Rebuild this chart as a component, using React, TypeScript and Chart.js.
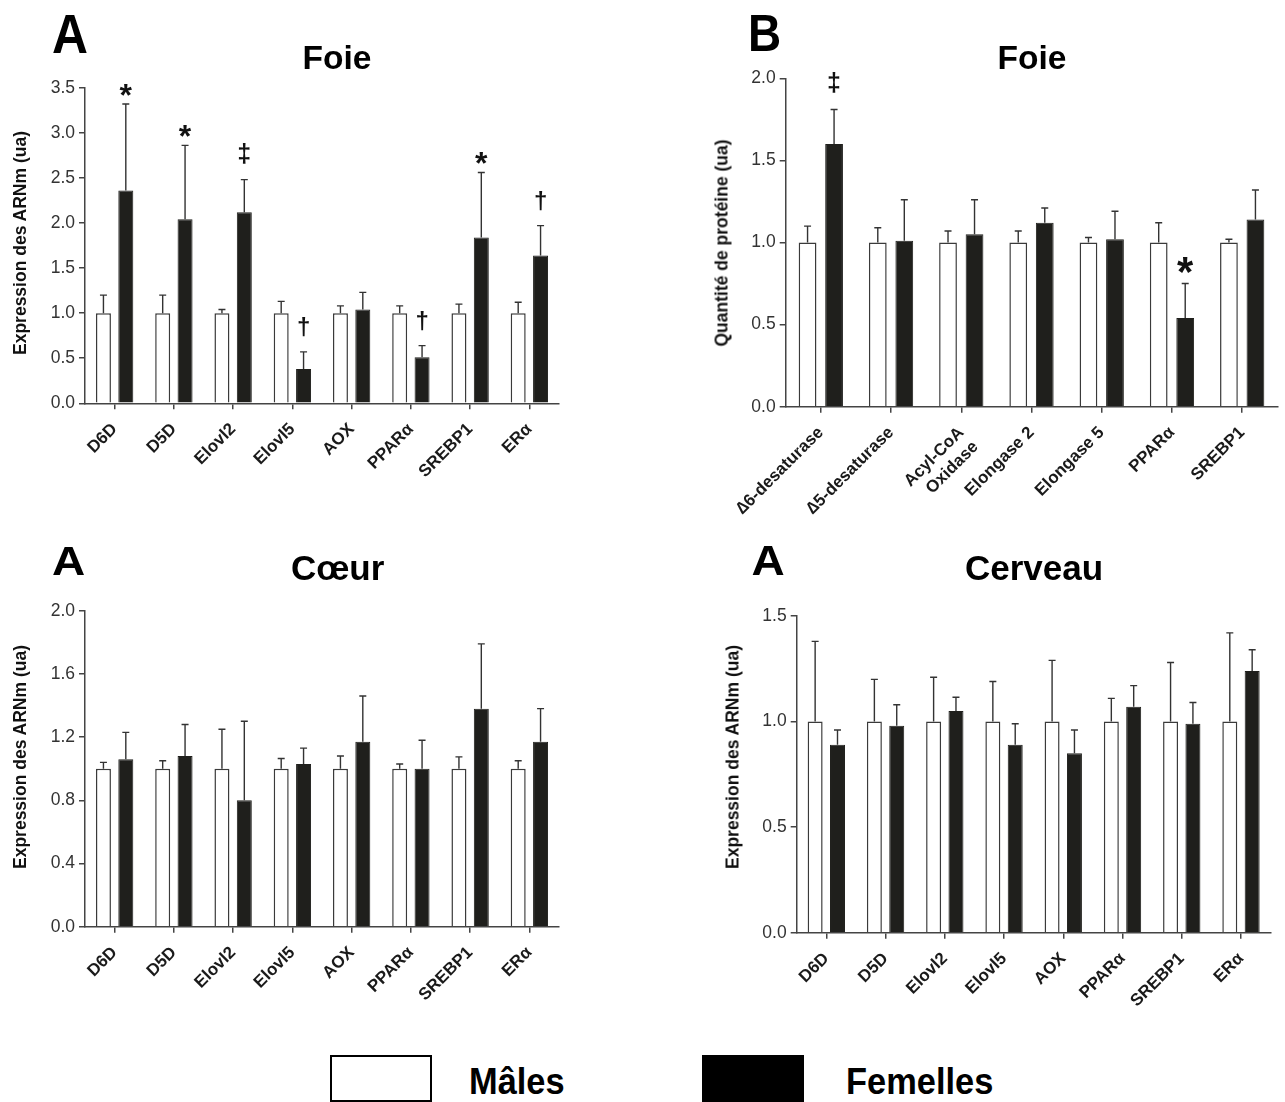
import React, { useEffect, useRef } from "react";
import { Chart, registerables } from "chart.js";

Chart.register(...registerables);

const FONT = "'Liberation Sans', Arial, Helvetica, sans-serif";

// ---- Categories ----
const genesArn = ["D6D", "D5D", "Elovl2", "Elovl5", "AOX", "PPARα", "SREBP1", "ERα"];
const proteinesFoie = ["∆6-desaturase", "∆5-desaturase", ["Acyl-CoA", "Oxidase"], "Elongase 2", "Elongase 5", "PPARα", "SREBP1"];

// ---- A: Foie (ARNm) ----
const foieArnMales = [1, 1, 1, 1, 1, 1, 1, 1];
const foieArnMalesSem = [0.2, 0.2, 0.04, 0.13, 0.08, 0.08, 0.1, 0.12];
const foieArnFemelles = [2.36, 2.04, 2.12, 0.38, 1.04, 0.51, 1.84, 1.64];
const foieArnFemellesSem = [0.96, 0.82, 0.36, 0.19, 0.19, 0.13, 0.72, 0.33];
const foieArnSignif = ["*", "*", "‡", "†", "", "†", "*", "†"];
const foieArnTicks = { max: 3.5, step: 0.5 };

// ---- B: Foie (protéine) ----
const foieProtMales = [1, 1, 1, 1, 1, 1, 1];
const foieProtMalesSem = [0.1, 0.09, 0.07, 0.07, 0.03, 0.12, 0.02];
const foieProtFemelles = [1.6, 1.01, 1.05, 1.12, 1.02, 0.54, 1.14];
const foieProtFemellesSem = [0.21, 0.25, 0.21, 0.09, 0.17, 0.21, 0.18];
const foieProtSignif = ["‡", "", "", "", "", "*", ""];
const foieProtTicks = { max: 2.0, step: 0.5 };

// ---- A: Cœur ----
const coeurMales = [1, 1, 1, 1, 1, 1, 1, 1];
const coeurMalesSem = [0.04, 0.05, 0.25, 0.065, 0.08, 0.03, 0.075, 0.05];
const coeurFemelles = [1.06, 1.08, 0.8, 1.03, 1.17, 1.0, 1.38, 1.17];
const coeurFemellesSem = [0.17, 0.2, 0.5, 0.1, 0.29, 0.18, 0.41, 0.21];
const coeurTicks = { max: 2.0, step: 0.4 };

// ---- A: Cerveau ----
const cerveauMales = [1, 1, 1, 1, 1, 1, 1, 1];
const cerveauMalesSem = [0.38, 0.2, 0.21, 0.19, 0.29, 0.11, 0.28, 0.42];
const cerveauFemelles = [0.89, 0.98, 1.05, 0.89, 0.85, 1.07, 0.99, 1.24];
const cerveauFemellesSem = [0.07, 0.1, 0.065, 0.1, 0.11, 0.1, 0.1, 0.1];
const cerveauTicks = { max: 1.5, step: 0.5 };

const SYMBOL_STYLE: Record<string, { size: number; lift: number }> = {
  "*": { size: 32, lift: -2 },
  "†": { size: 24, lift: 17 },
  "‡": { size: 25, lift: 18 },
};

const errorBarPlugin = {
  id: "errorBars",
  afterDatasetsDraw(chart: any) {
    const ctx = chart.ctx;
    const yScale = chart.scales.y;
    const starScale = chart.options.starScale || 1;
    chart.data.datasets.forEach((ds: any, di: number) => {
      const meta = chart.getDatasetMeta(di);
      meta.data.forEach((bar: any, i: number) => {
        const v = ds.data[i];
        const e = ds.errors ? ds.errors[i] : 0;
        const yTop = yScale.getPixelForValue(v + e);
        ctx.save();
        ctx.strokeStyle = "#333";
        ctx.lineWidth = 1.4;
        ctx.beginPath();
        ctx.moveTo(bar.x, bar.y);
        ctx.lineTo(bar.x, yTop);
        ctx.moveTo(bar.x - 3.5, yTop);
        ctx.lineTo(bar.x + 3.5, yTop);
        ctx.stroke();
        const sym = ds.signif ? ds.signif[i] : "";
        if (sym) {
          const st = SYMBOL_STYLE[sym];
          const size = sym === "*" ? st.size * starScale : st.size;
          ctx.fillStyle = "#111";
          ctx.font = `bold ${size}px ${FONT}`;
          ctx.textAlign = "center";
          ctx.textBaseline = "alphabetic";
          ctx.fillText(sym, bar.x, yTop - st.lift);
        }
        ctx.restore();
      });
    });
  },
};

type PanelProps = {
  labels: any[];
  males: number[];
  malesSem: number[];
  females: number[];
  femalesSem: number[];
  signif?: string[];
  ymax: number;
  step: number;
  rect: { left: number; top: number; w: number; h: number };
  plotLeft: number;
  padTop: number;
  padRight: number;
  xHeight: number;
  starScale?: number;
};

function Panel(p: PanelProps) {
  const ref = useRef<HTMLCanvasElement | null>(null);
  useEffect(() => {
    if (!ref.current) return;
    const axisColor = "#444";
    const chart = new Chart(ref.current, {
      type: "bar",
      data: {
        labels: p.labels,
        datasets: [
          {
            label: "Mâles",
            data: p.males,
            errors: p.malesSem,
            backgroundColor: "#ffffff",
            borderColor: "#3a3a3a",
            borderWidth: 1.5,
            categoryPercentage: 0.755,
            barPercentage: 0.67,
          } as any,
          {
            label: "Femelles",
            data: p.females,
            errors: p.femalesSem,
            signif: p.signif,
            backgroundColor: "#1f1f1c",
            borderColor: "#1f1f1c",
            borderWidth: 1,
            categoryPercentage: 0.755,
            barPercentage: 0.67,
          } as any,
        ],
      },
      options: {
        responsive: false,
        animation: false,
        starScale: p.starScale || 1,
        layout: { padding: { left: 0, top: p.padTop, right: p.padRight, bottom: 0 } },
        plugins: { legend: { display: false }, tooltip: { enabled: false }, title: { display: false } },
        scales: {
          x: {
            offset: true,
            grid: {
              display: true,
              offset: false,
              drawOnChartArea: false,
              drawTicks: true,
              tickLength: 6,
              color: axisColor,
              lineWidth: 1.5,
            },
            border: { display: true, color: axisColor, width: 1.5 },
            ticks: {
              autoSkip: false,
              maxRotation: 45,
              minRotation: 45,
              color: "#1a1a1a",
              padding: 10,
              font: { family: FONT, size: 17, weight: "bold" },
            },
            afterFit: (s: any) => {
              s.height = p.xHeight;
            },
          },
          y: {
            min: 0,
            max: p.ymax,
            grid: {
              display: true,
              drawOnChartArea: false,
              drawTicks: true,
              tickLength: 6,
              color: axisColor,
              lineWidth: 1.5,
            },
            border: { display: true, color: axisColor, width: 1.5 },
            ticks: {
              stepSize: p.step,
              color: "#333",
              padding: 4,
              font: { family: FONT, size: 17.5 },
              callback: (v: any) => Number(v).toFixed(1),
            },
            afterFit: (s: any) => {
              s.width = p.plotLeft;
            },
          },
        },
      } as any,
      plugins: [errorBarPlugin],
    });
    return () => chart.destroy();
  }, []);
  return (
    <canvas
      ref={ref}
      width={p.rect.w}
      height={p.rect.h}
      style={{ position: "absolute", left: p.rect.left, top: p.rect.top, width: p.rect.w, height: p.rect.h }}
    />
  );
}

function Txt(props: { text: string; left: number; capTop: number; size: number; sx?: number; sy?: number }) {
  const sx = props.sx ?? 1;
  const sy = props.sy ?? 1;
  return (
    <div
      style={{
        position: "absolute",
        left: props.left,
        top: props.capTop - 0.1305 * props.size * sy,
        fontFamily: FONT,
        fontWeight: "bold",
        fontSize: props.size,
        lineHeight: 1,
        whiteSpace: "nowrap",
        color: "#000",
        transform: `scale(${sx}, ${sy})`,
        transformOrigin: "0 0",
      }}
    >
      {props.text}
    </div>
  );
}

function YTitle(props: { text: string; cx: number; cy: number }) {
  return (
    <div
      style={{
        position: "absolute",
        left: props.cx,
        top: props.cy,
        fontFamily: FONT,
        fontWeight: "bold",
        fontSize: 17.5,
        lineHeight: 1.2,
        whiteSpace: "nowrap",
        color: "#111",
        transform: "translate(-50%, -50%) rotate(-90deg)",
        transformOrigin: "50% 50%",
      }}
    >
      {props.text}
    </div>
  );
}

export default function App() {
  return (
    <div
      style={{
        position: "absolute",
        left: 0,
        top: 0,
        width: 1285,
        height: 1102,
        background: "#fff",
        overflow: "hidden",
      }}
    >
      <Panel
        labels={genesArn}
        males={foieArnMales}
        malesSem={foieArnMalesSem}
        females={foieArnFemelles}
        femalesSem={foieArnFemellesSem}
        signif={foieArnSignif}
        ymax={foieArnTicks.max}
        step={foieArnTicks.step}
        rect={{ left: 0, top: 60, w: 600, h: 480 }}
        plotLeft={85}
        padTop={27.7}
        padRight={41}
        xHeight={136.7}
      />
      <Panel
        labels={proteinesFoie}
        males={foieProtMales}
        malesSem={foieProtMalesSem}
        females={foieProtFemelles}
        femalesSem={foieProtFemellesSem}
        signif={foieProtSignif}
        ymax={foieProtTicks.max}
        step={foieProtTicks.step}
        rect={{ left: 640, top: 60, w: 645, h: 480 }}
        plotLeft={145.7}
        padTop={18.3}
        padRight={7.7}
        xHeight={133.3}
        starScale={1.3}
      />
      <Panel
        labels={genesArn}
        males={coeurMales}
        malesSem={coeurMalesSem}
        females={coeurFemelles}
        femalesSem={coeurFemellesSem}
        ymax={coeurTicks.max}
        step={coeurTicks.step}
        rect={{ left: 0, top: 580, w: 600, h: 460 }}
        plotLeft={85}
        padTop={30.7}
        padRight={41}
        xHeight={113.3}
      />
      <Panel
        labels={genesArn}
        males={cerveauMales}
        malesSem={cerveauMalesSem}
        females={cerveauFemelles}
        femalesSem={cerveauFemellesSem}
        ymax={cerveauTicks.max}
        step={cerveauTicks.step}
        rect={{ left: 660, top: 580, w: 625, h: 460 }}
        plotLeft={136.7}
        padTop={36}
        padRight={14.4}
        xHeight={107.3}
      />

      <YTitle text="Expression des ARNm (ua)" cx={20} cy={242.5} />
      <YTitle text="Quantité de protéine (ua)" cx={722} cy={242.5} />
      <YTitle text="Expression des ARNm (ua)" cx={20} cy={756.6} />
      <YTitle text="Expression des ARNm (ua)" cx={732.5} cy={756.5} />

      <Txt text="A" left={51.7} capTop={13.3} size={56} sx={0.89} />
      <Txt text="Foie" left={302.6} capTop={45} size={33.5} />
      <Txt text="B" left={748} capTop={15} size={51} sx={0.9} />
      <Txt text="Foie" left={997.6} capTop={45} size={33.5} />
      <Txt text="A" left={52} capTop={545} size={46} sy={0.9} />
      <Txt text="Cœur" left={291} capTop={555} size={35} />
      <Txt text="A" left={751.5} capTop={545} size={46} sy={0.93} />
      <Txt text="Cerveau" left={965} capTop={555} size={35} />

      <div
        style={{
          position: "absolute",
          left: 330,
          top: 1055,
          width: 102,
          height: 47,
          boxSizing: "border-box",
          border: "2px solid #000",
          background: "#fff",
        }}
      />
      <Txt text="Mâles" left={469} capTop={1068} size={37} sx={0.93} />
      <div
        style={{
          position: "absolute",
          left: 702,
          top: 1055,
          width: 102,
          height: 47,
          background: "#000",
        }}
      />
      <Txt text="Femelles" left={845.6} capTop={1068} size={37} sx={0.93} />
    </div>
  );
}
